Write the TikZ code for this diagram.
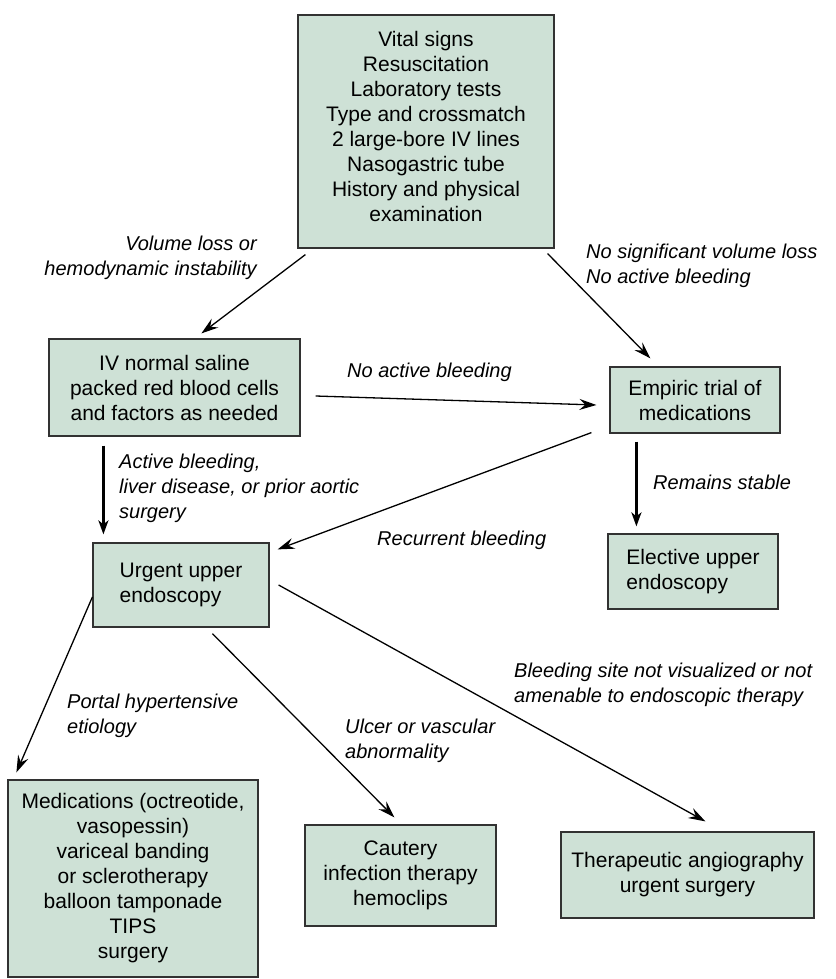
\documentclass[tikz,border=0pt]{standalone}
\usepackage{fontspec}
\setmainfont{Liberation Sans}
\usetikzlibrary{arrows.meta,calc}
\definecolor{boxfill}{RGB}{206,225,214}
\definecolor{boxline}{RGB}{50,50,50}
\begin{document}
\begin{tikzpicture}[x=1pt,y=-1pt,
  box/.style={draw=boxline,line width=1.2pt,fill=boxfill,inner sep=0pt,align=center,
    font=\fontsize{21}{25}\selectfont},
  lbl/.style={inner sep=0pt,font=\itshape\fontsize{20}{25}\selectfont},
  arr/.style={line width=1.3pt,-{Stealth[length=17pt,width=11pt,inset=6pt]}},
  tarr/.style={line width=3.2pt,-{Stealth[length=14pt,width=10pt,inset=4pt]}}]
\useasboundingbox (0,0) rectangle (835,979);
\node[box,minimum width=256pt,minimum height=233pt] (top) at (426,131.5)
  {Vital signs\\Resuscitation\\Laboratory tests\\Type and crossmatch\\2 large-bore IV lines\\Nasogastric tube\\History and physical\\examination\\[-15pt]};
\node[box,minimum width=251pt,minimum height=97pt] (iv) at (174.5,387.5)
  {IV normal saline\\packed red blood cells\\and factors as needed};
\node[box,minimum width=170pt,minimum height=66pt] (emp) at (695,400)
  {Empiric trial of\\medications};
\node[box,minimum width=176pt,minimum height=84pt,align=left] (urg) at (181,585)
  {Urgent upper\\endoscopy};
\node[box,minimum width=170pt,minimum height=75pt,align=left] (elec) at (693,571.5)
  {Elective upper\\endoscopy};
\node[box,minimum width=250pt,minimum height=197pt] (med) at (133,878.5)
  {Medications (octreotide,\\vasopessin)\\variceal banding\\or sclerotherapy\\balloon tamponade\\TIPS\\surgery};
\node[box,minimum width=191pt,minimum height=101pt] (caut) at (400.5,875.5)
  {Cautery\\infection therapy\\hemoclips};
\node[box,minimum width=253pt,minimum height=86pt] (ther) at (687.5,875)
  {Therapeutic angiography\\urgent surgery};
% labels
\node[lbl,align=right,anchor=north east] (l1) at (257,232.5) {\strut Volume loss or\\hemodynamic instability};
\node[lbl,align=left,anchor=north west] (l2) at (586,240.5) {\strut No significant volume loss\\No active bleeding};
\node[lbl,anchor=base west] (l3) at (347,377) {No active bleeding};
\node[lbl,align=left,anchor=north west] (l4) at (119,450.5) {\strut Active bleeding,\\liver disease, or prior aortic\\surgery};
\node[lbl,anchor=base west] (l5) at (653,489) {Remains stable};
\node[lbl,anchor=base west] (l6) at (377,545) {Recurrent bleeding};
\node[lbl,align=left,anchor=north west] (l7) at (514,659.5) {\strut Bleeding site not visualized or not\\amenable to endoscopic therapy};
\node[lbl,align=left,anchor=north west] (l8) at (67,690.5) {\strut Portal hypertensive\\etiology};
\node[lbl,align=left,anchor=north west] (l9) at (345,715.5) {\strut Ulcer or vascular\\abnormality};
% connectors
\draw[arr] ($(top.south west)+(8,6)$) -- ($(iv.north west)+(153,-5)$);
\draw[arr] ($(top.south east)+(-7,5)$) -- ($(emp.north west)+(41,-8)$);
\draw[arr] ($(iv.east)+(15,8.5)$) -- ($(emp.west)+(-13,5)$);
\draw[arr] ($(emp.south west)+(-18,-1)$) -- ($(urg.north east)+(8,7)$);
\draw[tarr] ($(iv.south west)+(55,9)$) -- ($(urg.north west)+(11,-8)$);
\draw[tarr] ($(emp.south west)+(27,8)$) -- ($(elec.north west)+(29,-7)$);
\draw[arr] ($(urg.west)+(0,12)$) -- ($(med.north west)+(9,-7)$);
\draw[arr] ($(urg.south west)+(120,6)$) -- ($(caut.north west)+(90,-7)$);
\draw[arr] ($(urg.east)+(9,0)$) -- ($(ther.north west)+(145,-10)$);
\end{tikzpicture}
\end{document}
